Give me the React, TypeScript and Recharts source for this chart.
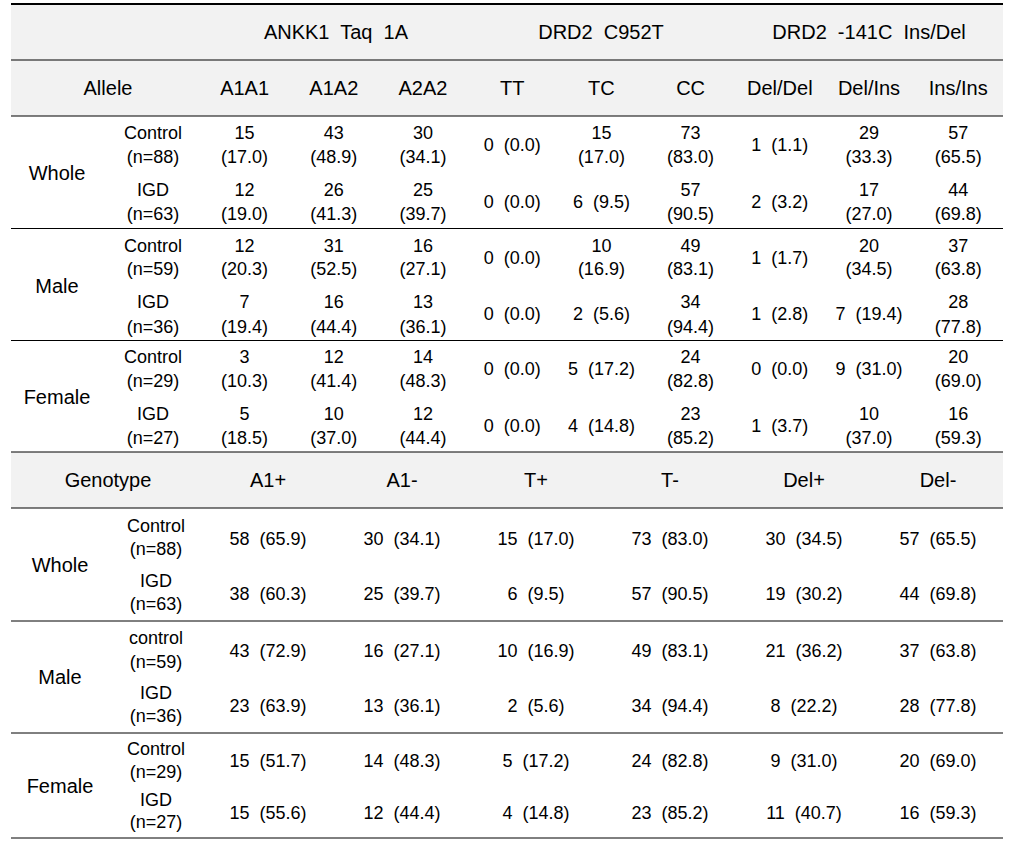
import React from 'react';
import { ComposedChart, XAxis, YAxis, Scatter, ReferenceArea, ReferenceLine } from 'recharts';

// ---------- data ----------
const geneHeaders = ['ANKK1  Taq  1A', 'DRD2  C952T', 'DRD2  -141C  Ins/Del'];
const alleleColumns = ['A1A1', 'A1A2', 'A2A2', 'TT', 'TC', 'CC', 'Del/Del', 'Del/Ins', 'Ins/Ins'];
const genotypeColumns = ['A1+', 'A1-', 'T+', 'T-', 'Del+', 'Del-'];
const groups = ['Whole', 'Male', 'Female'];
const alleleSubjects = [
  ['Control', '(n=88)'], ['IGD', '(n=63)'],
  ['Control', '(n=59)'], ['IGD', '(n=36)'],
  ['Control', '(n=29)'], ['IGD', '(n=27)'],
];
const genotypeSubjects = [
  ['Control', '(n=88)'], ['IGD', '(n=63)'],
  ['control', '(n=59)'], ['IGD', '(n=36)'],
  ['Control', '(n=29)'], ['IGD', '(n=27)'],
];
const alleleCounts = [
  [15, 43, 30, 0, 15, 73, 1, 29, 57],
  [12, 26, 25, 0, 6, 57, 2, 17, 44],
  [12, 31, 16, 0, 10, 49, 1, 20, 37],
  [7, 16, 13, 0, 2, 34, 1, 7, 28],
  [3, 12, 14, 0, 5, 24, 0, 9, 20],
  [5, 10, 12, 0, 4, 23, 1, 10, 16],
];
const allelePercents = [
  [17.0, 48.9, 34.1, 0.0, 17.0, 83.0, 1.1, 33.3, 65.5],
  [19.0, 41.3, 39.7, 0.0, 9.5, 90.5, 3.2, 27.0, 69.8],
  [20.3, 52.5, 27.1, 0.0, 16.9, 83.1, 1.7, 34.5, 63.8],
  [19.4, 44.4, 36.1, 0.0, 5.6, 94.4, 2.8, 19.4, 77.8],
  [10.3, 41.4, 48.3, 0.0, 17.2, 82.8, 0.0, 31.0, 69.0],
  [18.5, 37.0, 44.4, 0.0, 14.8, 85.2, 3.7, 37.0, 59.3],
];
const genotypeCounts = [
  [58, 30, 15, 73, 30, 57],
  [38, 25, 6, 57, 19, 44],
  [43, 16, 10, 49, 21, 37],
  [23, 13, 2, 34, 8, 28],
  [15, 14, 5, 24, 9, 20],
  [15, 12, 4, 23, 11, 16],
];
const genotypePercents = [
  [65.9, 34.1, 17.0, 83.0, 34.5, 65.5],
  [60.3, 39.7, 9.5, 90.5, 30.2, 69.8],
  [72.9, 27.1, 16.9, 83.1, 36.2, 63.8],
  [63.9, 36.1, 5.6, 94.4, 22.2, 77.8],
  [51.7, 48.3, 17.2, 82.8, 31.0, 69.0],
  [55.6, 44.4, 14.8, 85.2, 40.7, 59.3],
];

// ---------- layout ----------
const W = 1015;
const H = 847;
const LEFT = 11;
const RIGHT = 1003;
const FONT = '"Liberation Sans", Arial, Helvetica, sans-serif';
const HEAD_SIZE = 20;
const CELL_SIZE = 18;
const TOP = 4;
const HDR1_BOTTOM = 60;
const HDR2_BOTTOM = 116;
const T1_EDGES = [116, 228.5, 340.5, 452];
const T2_HEADER_BOTTOM = 508;
const T2_EDGES = [508, 621, 733, 838];
const geneX = [336, 601, 869];
const alleleColX = (i: number) => 200 + 89.2 * (i + 0.5);
const genotypeColX = (i: number) => 201 + 134 * (i + 0.5);

type Pt = { x: number; y: number; label: string; size: number };
const pts: Pt[] = [];
const add = (x: number, y: number, label: string, size: number) => pts.push({ x, y, label, size });

// header row 1
geneHeaders.forEach((g, i) => add(geneX[i], (TOP + HDR1_BOTTOM) / 2, g, HEAD_SIZE));
// header row 2
add(108, (HDR1_BOTTOM + HDR2_BOTTOM) / 2, 'Allele', HEAD_SIZE);
alleleColumns.forEach((c, i) => add(alleleColX(i), (HDR1_BOTTOM + HDR2_BOTTOM) / 2, c, HEAD_SIZE));

// allele table body
groups.forEach((g, gi) => {
  const top = T1_EDGES[gi];
  const h = T1_EDGES[gi + 1] - top;
  add(57, top + h * 0.509, g, HEAD_SIZE);
  [0, 1].forEach((s) => {
    const r = gi * 2 + s;
    const l1 = top + h * (s === 0 ? 0.152 : 0.656);
    const l2 = top + h * (s === 0 ? 0.366 : 0.875);
    const mid = top + h * (s === 0 ? 0.259 : 0.763);
    add(153, l1, alleleSubjects[r][0], CELL_SIZE);
    add(153, l2, alleleSubjects[r][1], CELL_SIZE);
    alleleCounts[r].forEach((n, ci) => {
      const p = `(${allelePercents[r][ci].toFixed(1)})`;
      const wrap = ci < 3 || n >= 10;
      if (wrap) {
        add(alleleColX(ci), l1, String(n), CELL_SIZE);
        add(alleleColX(ci), l2, p, CELL_SIZE);
      } else {
        add(alleleColX(ci), mid, `${n}  ${p}`, CELL_SIZE);
      }
    });
  });
});

// genotype header
add(108, (T1_EDGES[3] + T2_HEADER_BOTTOM) / 2, 'Genotype', HEAD_SIZE);
genotypeColumns.forEach((c, i) => add(genotypeColX(i), (T1_EDGES[3] + T2_HEADER_BOTTOM) / 2, c, HEAD_SIZE));

// genotype body
groups.forEach((g, gi) => {
  const top = T2_EDGES[gi];
  const h = T2_EDGES[gi + 1] - top;
  add(60, top + h * 0.5, g, HEAD_SIZE);
  [0, 1].forEach((s) => {
    const r = gi * 2 + s;
    const l1 = top + h * (s === 0 ? 0.155 : 0.642);
    const l2 = top + h * (s === 0 ? 0.367 : 0.85);
    const mid = top + h * (s === 0 ? 0.27 : 0.76);
    add(156, l1, genotypeSubjects[r][0], CELL_SIZE);
    add(156, l2, genotypeSubjects[r][1], CELL_SIZE);
    genotypeCounts[r].forEach((n, ci) => {
      add(genotypeColX(ci), mid, `${n}  (${genotypePercents[r][ci].toFixed(1)})`, CELL_SIZE);
    });
  });
});

const ruleYs = [HDR1_BOTTOM, HDR2_BOTTOM, T1_EDGES[1], T1_EDGES[2], T1_EDGES[3], T2_HEADER_BOTTOM, T2_EDGES[1], T2_EDGES[2], T2_EDGES[3]];

const TextMark = (props: any) => {
  const { cx, cy, payload } = props;
  if (cx == null || cy == null || !payload) return <g />;
  return (
    <text
      x={cx}
      y={cy}
      textAnchor="middle"
      dominantBaseline="central"
      fontSize={payload.size}
      fontFamily={FONT}
      fill="#000"
      xmlSpace="preserve"
      style={{ whiteSpace: 'pre' }}
    >
      {payload.label}
    </text>
  );
};

export default function App() {
  return (
    <div style={{ position: 'absolute', left: 0, top: 0, width: W, height: H, background: '#fff' }}>
      <ComposedChart width={W} height={H} margin={{ top: 0, right: 0, bottom: 0, left: 0 }}>
        <XAxis type="number" dataKey="x" domain={[0, W]} hide allowDataOverflow />
        <YAxis type="number" dataKey="y" domain={[0, H]} reversed hide allowDataOverflow />
        <ReferenceArea x1={LEFT} x2={RIGHT} y1={TOP} y2={HDR2_BOTTOM} fill="#f2f2f2" fillOpacity={1} stroke="none" />
        <ReferenceArea x1={LEFT} x2={RIGHT} y1={T1_EDGES[3]} y2={T2_HEADER_BOTTOM} fill="#f2f2f2" fillOpacity={1} stroke="none" />
        <ReferenceLine segment={[{ x: LEFT, y: TOP }, { x: RIGHT, y: TOP }]} stroke="#000" strokeWidth={2} />
        {ruleYs.map((y, i) => (
          <ReferenceLine key={i} segment={[{ x: LEFT, y }, { x: RIGHT, y }]} stroke="#000" strokeWidth={1} />
        ))}
        <Scatter data={pts} dataKey="y" shape={TextMark} isAnimationActive={false} />
      </ComposedChart>
    </div>
  );
}
